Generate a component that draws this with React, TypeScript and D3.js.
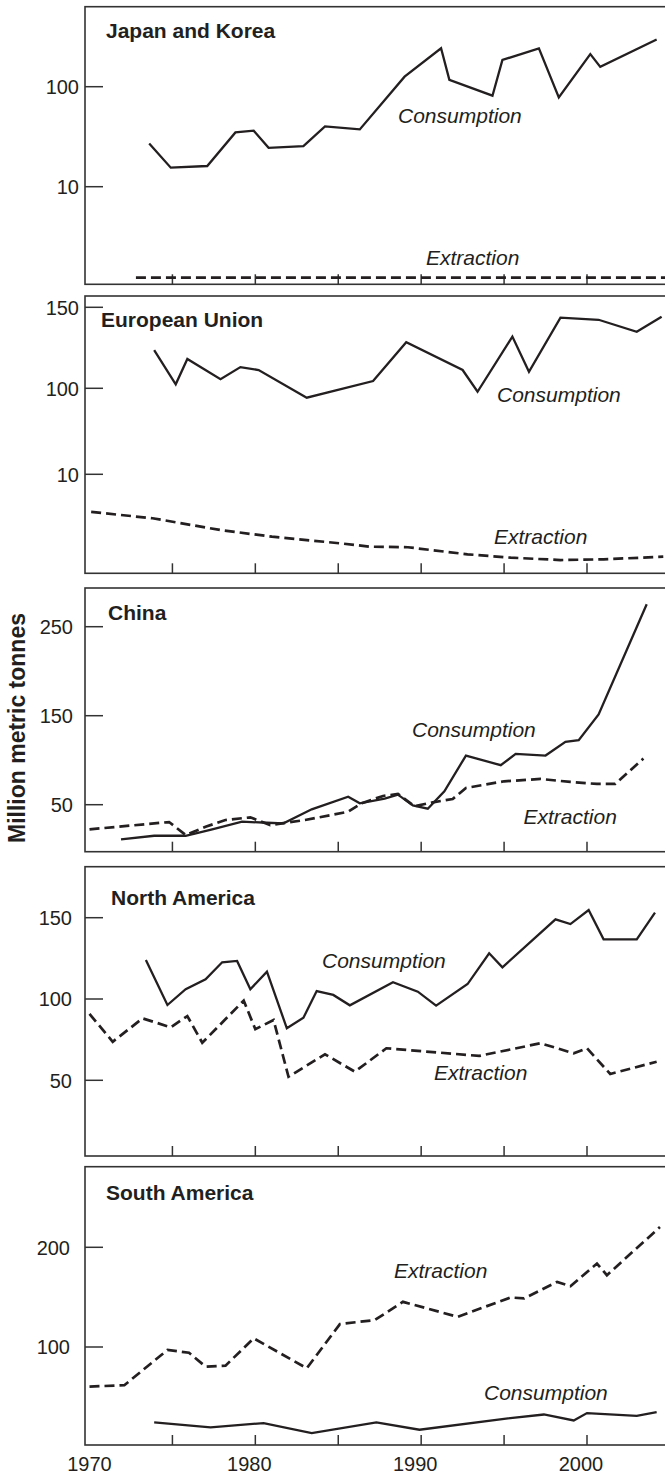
import React from "react";
import * as d3 from "d3";

// x axis
const yearLabels = [1970, 1980, 1990, 2000];
const yearTicks = [1975, 1980, 1985, 1990, 1995, 2000];

// [year, million tonnes]
const japanKoreaConsumption = [
  [1973.6, 27.1], [1974.9, 15.5], [1977.1, 16.1], [1978.8, 34.9], [1979.9, 36.3],
  [1980.8, 24.5], [1982.9, 25.5], [1984.2, 40.1], [1986.3, 37.4], [1989.0, 126],
  [1991.2, 242], [1991.7, 117], [1994.3, 81.3], [1994.9, 185], [1997.1, 242],
  [1998.3, 78.2], [2000.2, 212], [2000.8, 158], [2004.2, 297],
];
const japanKoreaExtraction = [[1972.8, 1.23], [2004.8, 1.23]];

const euConsumption = [
  [1973.9, 123.6], [1975.2, 102.5], [1975.9, 118.1], [1977.9, 105.6], [1979.1, 113.1],
  [1980.2, 111.3], [1983.1, 90.2], [1987.1, 104.5], [1989.1, 128.4], [1992.5, 111.3],
  [1993.4, 96.4], [1995.5, 131.9], [1996.5, 110.2], [1998.4, 143.6], [2000.7, 142.3],
  [2003.0, 134.9], [2004.5, 144.2],
];
const euExtraction = [
  [1970.1, 6.2], [1973.8, 5.56], [1977.9, 4.37], [1981.0, 3.7], [1985.1, 3.03],
  [1986.9, 2.69], [1989.2, 2.63], [1992.8, 1.92], [1995.4, 1.58], [1998.4, 1.34],
  [2001.0, 1.41], [2004.6, 1.68],
];

const chinaConsumption = [
  [1971.9, 11.0], [1973.9, 15.1], [1975.8, 15.1], [1977.4, 22.3], [1979.2, 30.9],
  [1980.7, 29.7], [1981.7, 29.1], [1983.4, 44.8], [1985.6, 59.0], [1986.3, 51.6],
  [1987.8, 56.8], [1988.6, 61.3], [1989.5, 49.3], [1990.4, 45.5], [1991.4, 65.1],
  [1992.7, 105.2], [1994.8, 94.4], [1995.7, 107.1], [1997.5, 105.2], [1998.7, 120.6],
  [1999.5, 122.5], [2000.7, 151.4], [2003.6, 275.2],
];
const chinaExtraction = [
  [1970.0, 22.3], [1974.8, 30.5], [1975.8, 15.9], [1977.0, 25.2], [1978.2, 32.8],
  [1979.7, 35.8], [1980.9, 27.1], [1983.0, 32.8], [1985.6, 42.1], [1986.4, 51.6],
  [1987.7, 59.8], [1988.6, 62.0], [1989.6, 48.2], [1990.7, 52.7], [1991.9, 56.4],
  [1992.7, 68.8], [1995.0, 76.3], [1997.2, 78.9], [1999.0, 75.6], [2000.6, 73.3],
  [2001.7, 73.3], [2003.4, 101.8],
];

const naConsumption = [
  [1973.4, 124.0], [1974.7, 96.3], [1975.8, 106.0], [1977.0, 112.1], [1978.0, 122.6],
  [1978.9, 123.4], [1979.7, 106.0], [1980.7, 116.8], [1981.9, 82.0], [1982.9, 88.5],
  [1983.7, 104.9], [1984.7, 102.5], [1985.7, 96.1], [1988.3, 110.3], [1989.8, 104.5],
  [1990.9, 95.9], [1992.8, 109.2], [1994.1, 128.1], [1994.9, 119.5], [1998.1, 149.0],
  [1999.0, 146.1], [2000.1, 154.7], [2001.0, 136.7], [2003.0, 136.7], [2004.1, 153.1],
];
const naExtraction = [
  [1970.0, 90.8], [1971.4, 73.7], [1973.2, 88.1], [1974.9, 82.6], [1975.9, 89.5],
  [1976.8, 73.1], [1979.3, 99.0], [1980.0, 81.4], [1981.1, 87.1], [1982.0, 52.2],
  [1984.2, 66.0], [1986.0, 55.3], [1987.9, 69.7], [1993.5, 65.0], [1997.2, 72.8],
  [1999.2, 66.6], [2000.0, 69.7], [2001.4, 53.9], [2004.2, 61.4],
];

const saConsumption = [
  [1973.9, 24.3], [1977.3, 19.3], [1980.5, 23.7], [1983.4, 13.7], [1987.3, 24.3],
  [1989.9, 17.0], [1995.0, 28.0], [1997.4, 32.3], [1999.2, 26.3], [2000.0, 33.7],
  [2003.0, 31.0], [2004.2, 34.7],
];
const saExtraction = [
  [1970.0, 60.3], [1972.1, 61.7], [1974.7, 97.0], [1976.0, 94.3], [1977.0, 80.3],
  [1978.2, 81.3], [1979.9, 108.7], [1983.1, 78.7], [1985.1, 123.0], [1987.2, 127.0],
  [1988.9, 145.3], [1992.2, 130.3], [1995.4, 149.7], [1996.2, 148.7], [1998.2, 165.3],
  [1999.0, 161.0], [2000.6, 183.7], [2001.2, 172.0], [2004.4, 220.3],
];

const jkTicks = [10, 100];
const euTicks = [10, 100, 150];
const chinaTicks = [50, 150, 250];
const naTicks = [50, 100, 150];
const saTicks = [100, 200];

const INK = "#231f20";
const FONT = "'Liberation Sans', Arial, Helvetica, sans-serif";
const LEFT = 85;
const RIGHT = 690;

const x = d3.scaleLinear().domain([1970, 2000]).range([89.5, 587]);

const panels = [
  {
    title: "Japan and Korea", top: 6.7, bottom: 284.3,
    y: d3.scaleLog().domain([10, 100]).range([186.7, 86.7]),
    ticks: jkTicks, labelEnd: 79,
    cons: japanKoreaConsumption, extr: japanKoreaExtraction,
    titleAt: [106, 37.5], consAt: [398, 123], extrAt: [426, 265],
  },
  {
    title: "European Union", top: 296, bottom: 573.3,
    y: d3.scaleLinear().domain([0, 10, 100, 150]).range([573.3, 474.3, 388.3, 307.3]),
    ticks: euTicks, labelEnd: 79,
    cons: euConsumption, extr: euExtraction,
    titleAt: [101, 327], consAt: [497, 401.7], extrAt: [494, 544],
  },
  {
    title: "China", top: 588, bottom: 851.7,
    y: d3.scaleLinear().domain([50, 250]).range([804.7, 626.7]),
    ticks: chinaTicks, labelEnd: 73,
    cons: chinaConsumption, extr: chinaExtraction,
    titleAt: [108, 620], consAt: [412, 737], extrAt: [523.5, 824],
  },
  {
    title: "North America", top: 866.7, bottom: 1156,
    y: d3.scaleLinear().domain([50, 150]).range([1080.3, 917.7]),
    ticks: naTicks, labelEnd: 72,
    cons: naConsumption, extr: naExtraction,
    titleAt: [111, 904.5], consAt: [322, 967.5], extrAt: [434, 1080],
  },
  {
    title: "South America", top: 1166.7, bottom: 1445,
    y: d3.scaleLinear().domain([100, 200]).range([1347, 1247.3]),
    ticks: saTicks, labelEnd: 70,
    cons: saConsumption, extr: saExtraction,
    titleAt: [106, 1200], consAt: [484, 1399.5], extrAt: [394, 1277.5],
  },
];

const Panel = ({ p, last }) => {
  const line = d3
    .line()
    .x((d) => x(d[0]))
    .y((d) => p.y(d[1]));

  return (
    <g>
      <rect
        x={LEFT}
        y={p.top}
        width={RIGHT - LEFT}
        height={p.bottom - p.top}
        fill="none"
        stroke="#333"
        strokeWidth={1.6}
      />
      {/* year ticks, pointing up from the bottom */}
      {yearTicks.map((t) => (
        <line key={t} x1={x(t)} x2={x(t)} y1={p.bottom} y2={p.bottom - 10} stroke="#333" strokeWidth={1.5} />
      ))}
      {/* value ticks, pointing in from the left */}
      {p.ticks.map((t) => (
        <g key={t}>
          <line x1={LEFT} x2={LEFT + 18} y1={p.y(t)} y2={p.y(t)} stroke="#333" strokeWidth={1.5} />
          <text x={p.labelEnd} y={p.y(t)} dy="0.36em" textAnchor="end" fontSize={20} fill={INK}>
            {t}
          </text>
        </g>
      ))}
      <path d={line(p.extr)} fill="none" stroke={INK} strokeWidth={2.7} strokeDasharray="10,5" />
      <path d={line(p.cons)} fill="none" stroke={INK} strokeWidth={2.3} strokeLinejoin="miter" />
      <text x={p.titleAt[0]} y={p.titleAt[1]} fontSize={21} fontWeight="bold" fill={INK}>
        {p.title}
      </text>
      <text x={p.consAt[0]} y={p.consAt[1]} fontSize={21} fontStyle="italic" fill={INK}>
        Consumption
      </text>
      <text x={p.extrAt[0]} y={p.extrAt[1]} fontSize={21} fontStyle="italic" fill={INK}>
        Extraction
      </text>
      {last &&
        yearLabels.map((t) => (
          <text key={t} x={x(t) + (t === 1970 ? 0 : -6)} y={p.bottom + 25.5} textAnchor="middle" fontSize={20} fill={INK}>
            {t}
          </text>
        ))}
    </g>
  );
};

export default function App() {
  return (
    <svg
      width={665}
      height={1475}
      style={{ position: "absolute", left: 0, top: 0, display: "block", background: "#fff" }}
      fontFamily={FONT}
    >
      <rect width={665} height={1475} fill="#fff" />
      {panels.map((p, i) => (
        <Panel key={p.title} p={p} last={i === panels.length - 1} />
      ))}
      <text
        transform="translate(25,728) rotate(-90)"
        textAnchor="middle"
        fontSize={23}
        fontWeight="bold"
        fill={INK}
      >
        Million metric tonnes
      </text>
    </svg>
  );
}
